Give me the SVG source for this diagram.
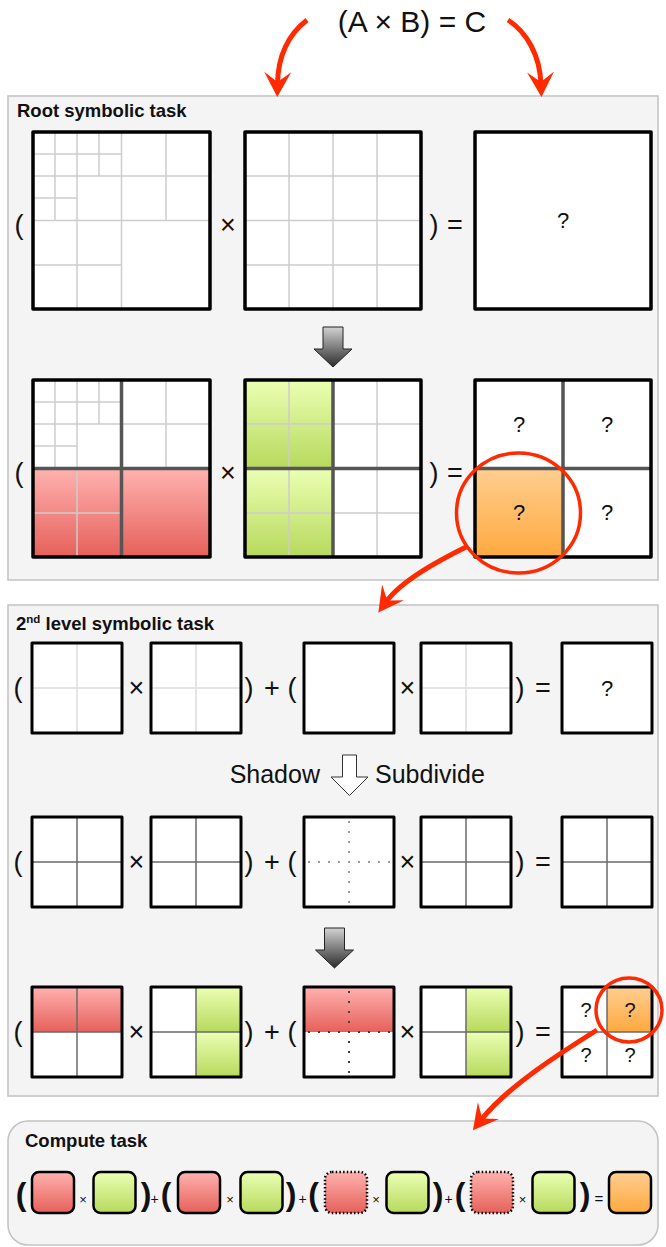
<svg xmlns="http://www.w3.org/2000/svg" width="666" height="1247" viewBox="0 0 666 1247">
<defs>
<style>
.panel{fill:#f4f4f4;stroke:#c2c2c2;stroke-width:1.5}
.bg{fill:#fff}
.bd{fill:none;stroke:#000;stroke-width:3.5;stroke-linejoin:round}
.bd2{fill:none;stroke:#000;stroke-width:3;stroke-linejoin:round}
.thin{stroke:#cdcdcd;stroke-width:1.5}
.light{stroke:#dcdcdc;stroke-width:1.5}
.cross{stroke:#6a6a6a;stroke-width:1.5}
.dot{stroke:#9a9a9a;stroke-width:2;stroke-dasharray:2 8}
.dotd{stroke:#444;stroke-width:2;stroke-dasharray:2 8}
.div{stroke:#555;stroke-width:3.5}
.red{fill:url(#gRed)}
.green{fill:url(#gGreen)}
.orange{fill:url(#gOrange)}
text{font-family:"Liberation Sans",Arial,sans-serif;fill:#111}
.sym{font-size:27px;text-anchor:middle}
.q{font-size:22px;text-anchor:middle}
.q2{font-size:20px;text-anchor:middle}
.title{font-size:18.5px;font-weight:bold}
.big{font-size:32px;font-weight:bold;text-anchor:middle}
.sm{font-size:14px;text-anchor:middle}
.cbox{stroke:#000;stroke-width:2.5}
.cdot{stroke:#000;stroke-width:2.5;stroke-dasharray:1.5 2.2}
.rarrow{fill:none;stroke:#ff2a00;stroke-width:5;marker-end:url(#ah)}
.ring{fill:none;stroke:#ff2a00;stroke-width:3.5}
.garrow{fill:url(#gArrow);stroke:#222;stroke-width:1}
</style>
<linearGradient id="gRed" x1="0" y1="0" x2="0" y2="1"><stop offset="0" stop-color="#ffb2b0"/><stop offset="1" stop-color="#e6605a"/></linearGradient>
<linearGradient id="gGreen" x1="0" y1="0" x2="0" y2="1"><stop offset="0" stop-color="#ebffb3"/><stop offset="1" stop-color="#b7d95d"/></linearGradient>
<linearGradient id="gOrange" x1="0" y1="0" x2="0" y2="1"><stop offset="0" stop-color="#ffce90"/><stop offset="1" stop-color="#ffa93f"/></linearGradient>
<linearGradient id="gArrow" x1="0" y1="0" x2="0" y2="1"><stop offset="0" stop-color="#d2d2d2"/><stop offset="1" stop-color="#2c2c2c"/></linearGradient>
<marker id="ah" markerUnits="userSpaceOnUse" markerWidth="28" markerHeight="30" viewBox="0 -15 28 30" refX="12" refY="0" orient="auto"><path d="M0,-13.5 L25,0 L0,13.5 L10,0 Z" fill="#ff2a00"/></marker>
</defs>

<g id="formula"><text x="412" y="32" style="font-size:30px;text-anchor:middle">(A × B) = C</text></g>

<g id="root-panel">
<rect class="panel" x="8" y="96" width="650" height="484"/>
<text class="title" x="17" y="117">Root symbolic task</text>
</g>

<g id="root-row1-symbols">
<text class="sym" x="19" y="234">(</text>
<text class="sym" x="228" y="234">×</text>
<text class="sym" x="434" y="234">)</text>
<text class="sym" x="455" y="234">=</text>
</g>

<g id="root-A">
<rect class="bg" x="33" y="132" width="177" height="177"/>
<g class="thin">
<line x1="55" y1="132" x2="55" y2="220.5"/>
<line x1="77" y1="132" x2="77" y2="309"/>
<line x1="99" y1="132" x2="99" y2="176"/>
<line x1="121.5" y1="132" x2="121.5" y2="309"/>
<line x1="166" y1="132" x2="166" y2="220.5"/>
<line x1="33" y1="154" x2="121.5" y2="154"/>
<line x1="33" y1="176" x2="210" y2="176"/>
<line x1="33" y1="198" x2="77" y2="198"/>
<line x1="33" y1="220.5" x2="210" y2="220.5"/>
<line x1="33" y1="265" x2="121.5" y2="265"/>
</g>
<rect class="bd" x="33" y="132" width="177" height="177"/>
</g>

<g id="root-B">
<rect class="bg" x="245" y="132" width="176" height="177"/>
<g class="thin">
<line x1="289" y1="132" x2="289" y2="309"/>
<line x1="333" y1="132" x2="333" y2="309"/>
<line x1="377" y1="132" x2="377" y2="309"/>
<line x1="245" y1="176" x2="421" y2="176"/>
<line x1="245" y1="220.5" x2="421" y2="220.5"/>
<line x1="245" y1="265" x2="421" y2="265"/>
</g>
<rect class="bd" x="245" y="132" width="176" height="177"/>
</g>

<g id="root-C">
<rect class="bg" x="475" y="132" width="176" height="177"/>
<text class="q" x="563" y="228">?</text>
<rect class="bd" x="475" y="132" width="176" height="177"/>
</g>

<g id="root-down-arrow">
<path class="garrow" d="M323,327 H343 V349 H352 L333,367 L314,349 H323 Z"/>
</g>

<g id="root-row2-symbols">
<text class="sym" x="19" y="482">(</text>
<text class="sym" x="228" y="482">×</text>
<text class="sym" x="434" y="482">)</text>
<text class="sym" x="455" y="482">=</text>
</g>

<g id="root-A2">
<rect class="bg" x="33" y="380" width="177" height="177"/>
<rect class="red" x="33" y="468.5" width="88.5" height="88.5"/>
<rect class="red" x="121.5" y="468.5" width="88.5" height="88.5"/>
<g class="thin">
<line x1="55" y1="380" x2="55" y2="468.5"/>
<line x1="77" y1="380" x2="77" y2="557"/>
<line x1="99" y1="380" x2="99" y2="424"/>
<line x1="166" y1="380" x2="166" y2="468.5"/>
<line x1="33" y1="402" x2="121.5" y2="402"/>
<line x1="33" y1="424" x2="210" y2="424"/>
<line x1="33" y1="446" x2="77" y2="446"/>
<line x1="33" y1="513" x2="121.5" y2="513"/>
</g>
<g class="div">
<line x1="121.5" y1="380" x2="121.5" y2="557"/>
<line x1="33" y1="468.5" x2="210" y2="468.5"/>
</g>
<rect class="bd" x="33" y="380" width="177" height="177"/>
</g>

<g id="root-B2">
<rect class="bg" x="245" y="380" width="176" height="177"/>
<rect class="green" x="245" y="380" width="88" height="88.5"/>
<rect class="green" x="245" y="468.5" width="88" height="88.5"/>
<g class="thin">
<line x1="289" y1="380" x2="289" y2="557"/>
<line x1="377" y1="380" x2="377" y2="557"/>
<line x1="245" y1="424" x2="421" y2="424"/>
<line x1="245" y1="513" x2="421" y2="513"/>
</g>
<g class="div">
<line x1="333" y1="380" x2="333" y2="557"/>
<line x1="245" y1="468.5" x2="421" y2="468.5"/>
</g>
<rect class="bd" x="245" y="380" width="176" height="177"/>
</g>

<g id="root-C2">
<rect class="bg" x="475" y="380" width="176" height="177"/>
<rect class="orange" x="475" y="468.5" width="88" height="88.5"/>
<g class="div">
<line x1="563" y1="380" x2="563" y2="557"/>
<line x1="475" y1="468.5" x2="651" y2="468.5"/>
</g>
<text class="q" x="519" y="432">?</text>
<text class="q" x="607" y="432">?</text>
<text class="q" x="519" y="520">?</text>
<text class="q" x="607" y="520">?</text>
<rect class="bd" x="475" y="380" width="176" height="177"/>
</g>

<g id="second-panel">
<rect class="panel" x="8" y="605" width="650" height="491"/>
<text class="title" x="16" y="630">2<tspan style="font-size:11.5px" dy="-7">nd</tspan><tspan dy="7"> level symbolic task</tspan></text>
</g>

<g id="l2-row1-symbols">
<text class="sym" x="18" y="697">(</text>
<text class="sym" x="136.5" y="697">×</text>
<text class="sym" x="249" y="697">)</text>
<text class="sym" x="272" y="697">+</text>
<text class="sym" x="292" y="697">(</text>
<text class="sym" x="407.5" y="697">×</text>
<text class="sym" x="520" y="697">)</text>
<text class="sym" x="543" y="697">=</text>
</g>

<g id="l2-r1-m1"><rect class="bg" x="32" y="643" width="90" height="90"/><g class="light"><line x1="77" y1="643" x2="77" y2="733"/><line x1="32" y1="688" x2="122" y2="688"/></g><rect class="bd2" x="32" y="643" width="90" height="90"/></g>
<g id="l2-r1-m2"><rect class="bg" x="151" y="643" width="90" height="90"/><g class="light"><line x1="196" y1="643" x2="196" y2="733"/><line x1="151" y1="688" x2="241" y2="688"/></g><rect class="bd2" x="151" y="643" width="90" height="90"/></g>
<g id="l2-r1-m3"><rect class="bg" x="304" y="643" width="90" height="90"/><rect class="bd2" x="304" y="643" width="90" height="90"/></g>
<g id="l2-r1-m4"><rect class="bg" x="421" y="643" width="90" height="90"/><g class="light"><line x1="466" y1="643" x2="466" y2="733"/><line x1="421" y1="688" x2="511" y2="688"/></g><rect class="bd2" x="421" y="643" width="90" height="90"/></g>
<g id="l2-r1-m5"><rect class="bg" x="562" y="643" width="90" height="90"/><text class="q" x="607" y="696">?</text><rect class="bd2" x="562" y="643" width="90" height="90"/></g>

<g id="shadow-subdivide">
<text x="320" y="783" style="font-size:25px;text-anchor:end">Shadow</text>
<path d="M342.5,755 H356.5 V777 H368 L349.5,795.5 L331,777 H342.5 Z" fill="#fff" stroke="#333" stroke-width="1"/>
<text x="375" y="783" style="font-size:25px">Subdivide</text>
</g>

<g id="l2-row2-symbols">
<text class="sym" x="18" y="871">(</text>
<text class="sym" x="136.5" y="871">×</text>
<text class="sym" x="249" y="871">)</text>
<text class="sym" x="272" y="871">+</text>
<text class="sym" x="292" y="871">(</text>
<text class="sym" x="407.5" y="871">×</text>
<text class="sym" x="520" y="871">)</text>
<text class="sym" x="543" y="871">=</text>
</g>

<g id="l2-r2-m1"><rect class="bg" x="32" y="817" width="90" height="90"/><g class="cross"><line x1="77" y1="817" x2="77" y2="907"/><line x1="32" y1="862" x2="122" y2="862"/></g><rect class="bd2" x="32" y="817" width="90" height="90"/></g>
<g id="l2-r2-m2"><rect class="bg" x="151" y="817" width="90" height="90"/><g class="cross"><line x1="196" y1="817" x2="196" y2="907"/><line x1="151" y1="862" x2="241" y2="862"/></g><rect class="bd2" x="151" y="817" width="90" height="90"/></g>
<g id="l2-r2-m3"><rect class="bg" x="304" y="817" width="90" height="90"/><g class="dot"><line x1="349" y1="821" x2="349" y2="905"/><line x1="308" y1="862" x2="392" y2="862"/></g><rect class="bd2" x="304" y="817" width="90" height="90"/></g>
<g id="l2-r2-m4"><rect class="bg" x="421" y="817" width="90" height="90"/><g class="cross"><line x1="466" y1="817" x2="466" y2="907"/><line x1="421" y1="862" x2="511" y2="862"/></g><rect class="bd2" x="421" y="817" width="90" height="90"/></g>
<g id="l2-r2-m5"><rect class="bg" x="562" y="817" width="90" height="90"/><g class="cross"><line x1="607" y1="817" x2="607" y2="907"/><line x1="562" y1="862" x2="652" y2="862"/></g><rect class="bd2" x="562" y="817" width="90" height="90"/></g>

<g id="l2-down-arrow">
<path class="garrow" d="M324.5,928 H344.5 V950 H353.5 L334.5,968 L315.5,950 H324.5 Z"/>
</g>

<g id="l2-row3-symbols">
<text class="sym" x="18" y="1041">(</text>
<text class="sym" x="136.5" y="1041">×</text>
<text class="sym" x="249" y="1041">)</text>
<text class="sym" x="272" y="1041">+</text>
<text class="sym" x="292" y="1041">(</text>
<text class="sym" x="407.5" y="1041">×</text>
<text class="sym" x="520" y="1041">)</text>
<text class="sym" x="543" y="1041">=</text>
</g>

<g id="l2-r3-m1"><rect class="bg" x="32" y="987" width="90" height="90"/><rect class="red" x="32" y="987" width="90" height="45"/><g class="cross"><line x1="77" y1="987" x2="77" y2="1077"/><line x1="32" y1="1032" x2="122" y2="1032"/></g><rect class="bd2" x="32" y="987" width="90" height="90"/></g>
<g id="l2-r3-m2"><rect class="bg" x="151" y="987" width="90" height="90"/><rect class="green" x="196" y="987" width="45" height="45"/><rect class="green" x="196" y="1032" width="45" height="45"/><g class="cross"><line x1="196" y1="987" x2="196" y2="1077"/><line x1="151" y1="1032" x2="241" y2="1032"/></g><rect class="bd2" x="151" y="987" width="90" height="90"/></g>
<g id="l2-r3-m3"><rect class="bg" x="304" y="987" width="90" height="90"/><rect class="red" x="304" y="987" width="90" height="45"/><g class="dotd"><line x1="349" y1="991" x2="349" y2="1075"/><line x1="308" y1="1032" x2="392" y2="1032"/></g><rect class="bd2" x="304" y="987" width="90" height="90"/></g>
<g id="l2-r3-m4"><rect class="bg" x="421" y="987" width="90" height="90"/><rect class="green" x="466" y="987" width="45" height="45"/><rect class="green" x="466" y="1032" width="45" height="45"/><g class="cross"><line x1="466" y1="987" x2="466" y2="1077"/><line x1="421" y1="1032" x2="511" y2="1032"/></g><rect class="bd2" x="421" y="987" width="90" height="90"/></g>
<g id="l2-r3-m5"><rect class="bg" x="562" y="987" width="90" height="90"/><rect class="orange" x="607" y="987" width="45" height="45"/><g class="cross"><line x1="607" y1="987" x2="607" y2="1077"/><line x1="562" y1="1032" x2="652" y2="1032"/></g>
<text class="q2" x="586" y="1017">?</text><text class="q2" x="630" y="1017">?</text><text class="q2" x="586" y="1062">?</text><text class="q2" x="630" y="1062">?</text>
<rect class="bd2" x="562" y="987" width="90" height="90"/></g>

<g id="compute-panel">
<rect class="panel" x="8" y="1121" width="650" height="124" rx="20"/>
<text class="title" x="25" y="1147">Compute task</text>
</g>

<g id="compute-row">
<text class="big" x="21" y="1205">(</text>
<rect class="red cbox" x="32" y="1172" width="42" height="41" rx="7"/>
<text class="sm" x="83" y="1204" style="font-size:13px">×</text>
<rect class="green cbox" x="93.5" y="1172" width="42" height="41" rx="7"/>
<text class="big" x="146" y="1205">)</text>
<text class="sm" x="154.5" y="1204">+</text>
<text class="big" x="166" y="1205">(</text>
<rect class="red cbox" x="178" y="1172" width="42" height="41" rx="7"/>
<text class="sm" x="230" y="1204" style="font-size:13px">×</text>
<rect class="green cbox" x="240.5" y="1172" width="42" height="41" rx="7"/>
<text class="big" x="291" y="1205">)</text>
<text class="sm" x="302.5" y="1204">+</text>
<text class="big" x="313.5" y="1205">(</text>
<rect class="red cdot" x="325" y="1172" width="42" height="41" rx="7"/>
<text class="sm" x="376" y="1204" style="font-size:13px">×</text>
<rect class="green cbox" x="386.5" y="1172" width="42" height="41" rx="7"/>
<text class="big" x="438" y="1205">)</text>
<text class="sm" x="448.5" y="1204">+</text>
<text class="big" x="460" y="1205">(</text>
<rect class="red cdot" x="471" y="1172" width="42" height="41" rx="7"/>
<text class="sm" x="522.5" y="1204" style="font-size:13px">×</text>
<rect class="green cbox" x="532.5" y="1172" width="42" height="41" rx="7"/>
<text class="big" x="585" y="1205">)</text>
<text class="sm" x="599" y="1204" style="font-size:15px">=</text>
<rect class="orange cbox" x="609" y="1172" width="42" height="41" rx="7"/>
</g>

<g id="connectors">
<path class="rarrow" d="M307,20 C289,34 278,56 277.5,84"/>
<path class="rarrow" d="M508,20 C527,32 540,56 541,84"/>
<ellipse class="ring" cx="518.5" cy="513" rx="62" ry="60"/>
<path class="rarrow" d="M466,547 C440,560 402,580 386,602"/>
<ellipse class="ring" cx="629" cy="1010" rx="33" ry="32"/>
<path class="rarrow" d="M597,1030 C562,1052 508,1086 481,1120"/>
</g>
</svg>
